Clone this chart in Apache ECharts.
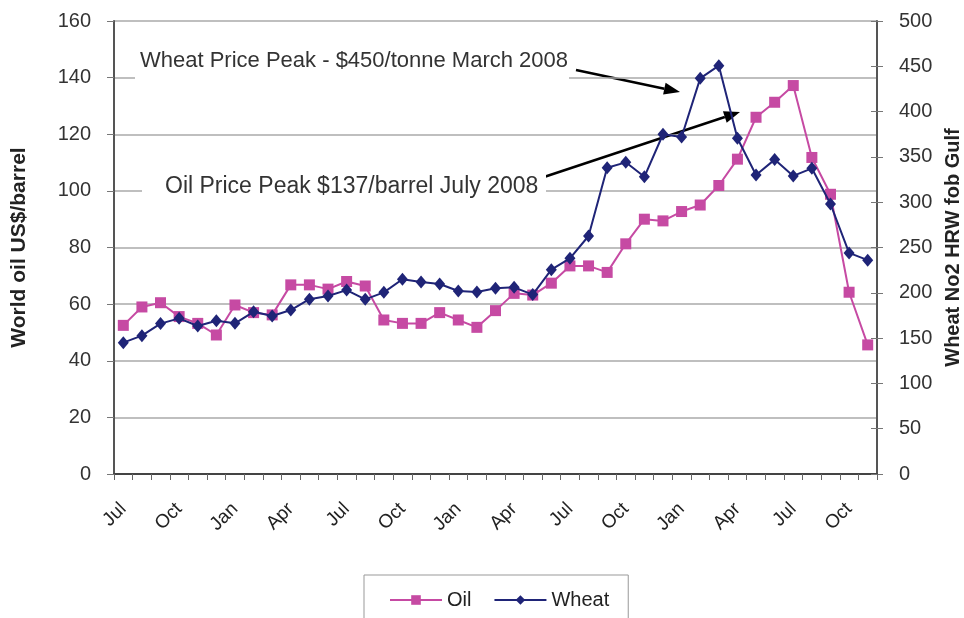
<!DOCTYPE html>
<html>
<head>
<meta charset="utf-8">
<script src="https://cdn.jsdelivr.net/npm/echarts@6/dist/echarts.min.js"></script>
<style>
  html, body { margin: 0; padding: 0; background: #fff; }
  #chart { width: 964px; height: 618px; }
</style>
</head>
<body>
<div id="chart"></div>
<script>
// Jul 2005 .. Nov 2008, monthly
var months = ['Jul','Aug','Sep','Oct','Nov','Dec','Jan','Feb','Mar','Apr','May','Jun',
              'Jul','Aug','Sep','Oct','Nov','Dec','Jan','Feb','Mar','Apr','May','Jun',
              'Jul','Aug','Sep','Oct','Nov','Dec','Jan','Feb','Mar','Apr','May','Jun',
              'Jul','Aug','Sep','Oct','Nov']

// World oil US$/barrel
var oil = [52.5, 59, 60.5, 55.6, 53.2, 49.1, 59.7, 57, 56.2, 66.8, 66.8, 65.3,
           68, 66.4, 54.4, 53.2, 53.2, 57, 54.4, 51.8, 57.7, 63.8, 63.2, 67.4,
           73.5, 73.5, 71.2, 81.3, 90, 89.4, 92.7, 95, 101.9, 111.2, 126, 131.3,
           137.2, 111.8, 98.8, 64.2, 45.6]

// Wheat No2 HRW fob Gulf, $/tonne
var wheat = [145, 152.7, 166, 171.8, 163.4, 169.2, 166.3, 179, 174.4, 181, 193, 196.5,
             203, 192.8, 200.5, 215, 212, 209.7, 202, 201, 205, 206, 198, 225.5,
             238, 262.7, 338, 344, 328, 375, 372, 436.7, 450.7, 370.5, 330, 347,
             329, 337.4, 298, 244, 236]

var oilTicks = [0, 160, 20]
var wheatTicks = [0, 500, 50]

var FONT = 'Liberation Sans, Arial, sans-serif'
var OIL_COLOR = '#C64AA3'
var WHEAT_COLOR = '#1F2477'

// arrow line with a filled head at (x2, y2)
function arrow(x1, y1, x2, y2) {
    var dx = x2 - x1, dy = y2 - y1
    var len = Math.sqrt(dx * dx + dy * dy)
    var ux = dx / len, uy = dy / len
    var head = 16, half = 6
    var bx = x2 - ux * head, by = y2 - uy * head
    return {
        type: 'group',
        z: 100,
        children: [{
            type: 'line',
            shape: { x1: x1, y1: y1, x2: bx, y2: by },
            style: { stroke: '#000', lineWidth: 2.5 }
        }, {
            type: 'polygon',
            shape: { points: [[x2, y2], [bx - uy * half, by + ux * half], [bx + uy * half, by - ux * half]] },
            style: { fill: '#000' }
        }]
    }
}

var chart = echarts.init(document.getElementById('chart'))

var option = {
    animation: false,
    backgroundColor: '#fff',
    textStyle: { fontFamily: FONT },
    grid: { left: 114, right: 87, top: 21, bottom: 144, outerBoundsMode: 'none', containLabel: false },
    legend: {
        data: ['Oil', 'Wheat'],
        left: 364,
        top: 575,
        itemWidth: 52,
        itemHeight: 12,
        itemGap: 22,
        padding: [15, 19, 24, 25],
        borderColor: '#999',
        borderWidth: 1,
        textStyle: { fontSize: 20, color: '#222', fontFamily: FONT }
    },
    xAxis: {
        type: 'category',
        data: months,
        boundaryGap: true,
        axisLine: { lineStyle: { color: '#444', width: 2 } },
        axisTick: { show: true, interval: 0, length: 6, lineStyle: { color: '#666' } },
        axisLabel: {
            interval: 2,
            rotate: 45,
            fontSize: 19,
            color: '#222',
            margin: 32
        },
        splitLine: { show: false }
    },
    yAxis: [{
        type: 'value',
        min: oilTicks[0], max: oilTicks[1], interval: oilTicks[2],
        position: 'left',
        name: 'World oil US$/barrel',
        nameLocation: 'middle',
        nameRotate: 90,
        nameGap: 84,
        nameTextStyle: { fontSize: 21, fontWeight: 'bold', color: '#222', fontFamily: FONT },
        axisLine: { show: true, lineStyle: { color: '#555', width: 2 } },
        axisTick: { show: true, length: 7, lineStyle: { color: '#777' } },
        axisLabel: { fontSize: 20, color: '#333', margin: 23 },
        splitLine: { show: true, lineStyle: { color: '#aaa', width: 1.5 } }
    }, {
        type: 'value',
        min: wheatTicks[0], max: wheatTicks[1], interval: wheatTicks[2],
        position: 'right',
        name: 'Wheat No2 HRW fob Gulf',
        nameLocation: 'middle',
        nameRotate: 90,
        nameGap: 66,
        nameTextStyle: { fontSize: 20, fontWeight: 'bold', color: '#222', fontFamily: FONT },
        axisLine: { show: true, lineStyle: { color: '#555', width: 2 } },
        axisTick: { show: true, length: 6, lineStyle: { color: '#777' } },
        axisLabel: { fontSize: 20, color: '#333', margin: 22 },
        splitLine: { show: false }
    }, {
        // inner half of the crossing ticks on the right axis
        type: 'value',
        min: wheatTicks[0], max: wheatTicks[1], interval: wheatTicks[2],
        position: 'right',
        axisLine: { show: false },
        axisTick: { show: true, inside: true, length: 6, lineStyle: { color: '#777' } },
        axisLabel: { show: false },
        splitLine: { show: false }
    }],
    series: [{
        name: 'Oil',
        type: 'line',
        yAxisIndex: 0,
        data: oil,
        symbol: 'rect',
        symbolSize: 11,
        showAllSymbol: true,
        itemStyle: { color: OIL_COLOR },
        lineStyle: { color: OIL_COLOR, width: 2 },
        z: 3
    }, {
        name: 'Wheat',
        type: 'line',
        yAxisIndex: 1,
        data: wheat,
        symbol: 'diamond',
        symbolSize: [11, 13],
        showAllSymbol: true,
        itemStyle: { color: WHEAT_COLOR },
        lineStyle: { color: WHEAT_COLOR, width: 2 },
        z: 4
    }],
    graphic: [{
        type: 'rect',
        z: 90,
        shape: { x: 135, y: 44, width: 434, height: 37 },
        style: { fill: '#fff' }
    }, {
        type: 'text',
        z: 91,
        x: 140, y: 61,
        style: { text: 'Wheat Price Peak - $450/tonne March 2008', fill: '#333',
                 font: '22px ' + FONT, verticalAlign: 'middle' }
    }, {
        type: 'rect',
        z: 90,
        shape: { x: 142, y: 172, width: 404, height: 28 },
        style: { fill: '#fff' }
    }, {
        type: 'text',
        z: 91,
        x: 165, y: 187,
        style: { text: 'Oil Price Peak $137/barrel July 2008', fill: '#333',
                 font: '23px ' + FONT, verticalAlign: 'middle' }
    },
    arrow(576, 70, 680, 92),
    arrow(541, 178, 740, 112)
    ]
}

chart.setOption(option)
</script>
</body>
</html>
